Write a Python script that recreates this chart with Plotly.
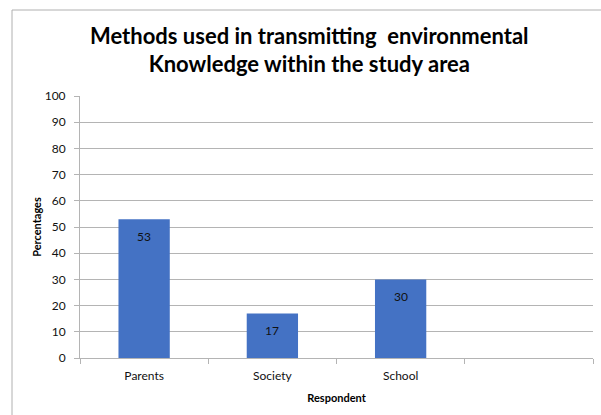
import plotly.graph_objects as go

# Survey results: share of respondents by source of environmental knowledge
categories = ["Parents", "Society", "School"]
percentages = [53, 17, 30]
y_ticks = [0, 10, 20, 30, 40, 50, 60, 70, 80, 90, 100]

title_text = "Methods used in transmitting\u00a0 environmental<br>Knowledge within the study area"
x_title = "Respondent"
y_title = "Percentages"

BAR = "#4472C4"
GRID = "#b4b4b4"
FONT = "Lato, Open Sans, sans-serif"
TEXT = "#111111"

# four category slots on the axis; the last one is left empty
n_slots = 4
positions = list(range(len(categories)))

fig = go.Figure()
fig.add_trace(go.Bar(
    x=positions,
    y=percentages,
    width=0.4,
    marker=dict(color=BAR, line=dict(width=0)),
    hoverinfo="skip",
))

# value labels placed just under the top of each bar
for x, v in zip(positions, percentages):
    fig.add_annotation(
        x=x, y=v, xref="x", yref="y",
        text=str(v), showarrow=False,
        yanchor="middle", yshift=-17,
        font=dict(family=FONT, size=12, color=TEXT),
    )

fig.update_layout(
    width=601, height=415,
    margin=dict(l=80, r=8, t=96, b=57),
    paper_bgcolor="white", plot_bgcolor="white",
    showlegend=False,
    font=dict(family=FONT, color=TEXT),
    title=dict(
        text=title_text,
        font=dict(family=FONT, size=22, color="#000000", weight="bold"),
        x=0.447, xref="paper", xanchor="center",
        y=1 - 43.5 / 415, yref="container", yanchor="middle",
    ),
    xaxis=dict(
        range=[-0.5, n_slots - 0.5],
        tickmode="array",
        tickvals=list(range(n_slots)),
        ticktext=categories + [""],
        ticks="",
        showgrid=False,
        zeroline=False,
        showline=True, linecolor=GRID, linewidth=1,
        tickfont=dict(family=FONT, size=12, color=TEXT),
        ticklabelstandoff=7,
        minor=dict(
            tickmode="array",
            tickvals=[i - 0.5 for i in range(n_slots + 1)],
            ticks="outside", ticklen=5, tickcolor=GRID, tickwidth=1,
            showgrid=False,
        ),
        title=dict(text=x_title, standoff=11,
                   font=dict(family=FONT, size=11, color="#000000", weight="bold")),
        fixedrange=True,
    ),
    yaxis=dict(
        range=[0, 100],
        tickmode="array",
        tickvals=y_ticks,
        ticks="outside", ticklen=5, tickcolor=GRID, tickwidth=1,
        showgrid=True, gridcolor=GRID, gridwidth=1,
        zeroline=False,
        showline=True, linecolor=GRID, linewidth=1,
        tickfont=dict(family=FONT, size=12, color=TEXT),
        ticklabelstandoff=6,
        title=dict(text=y_title, standoff=0,
                   font=dict(family=FONT, size=11, color="#000000", weight="bold")),
        fixedrange=True,
    ),
    shapes=[dict(
        type="rect", xref="paper", yref="paper",
        x0=(12 - 80) / 513, x1=1.2, y0=-0.4, y1=(358 - 10) / 262,
        line=dict(color="#b0b0b0", width=1), fillcolor="rgba(0,0,0,0)",
        layer="below",
    )],
)

fig.write_html("out.html")
